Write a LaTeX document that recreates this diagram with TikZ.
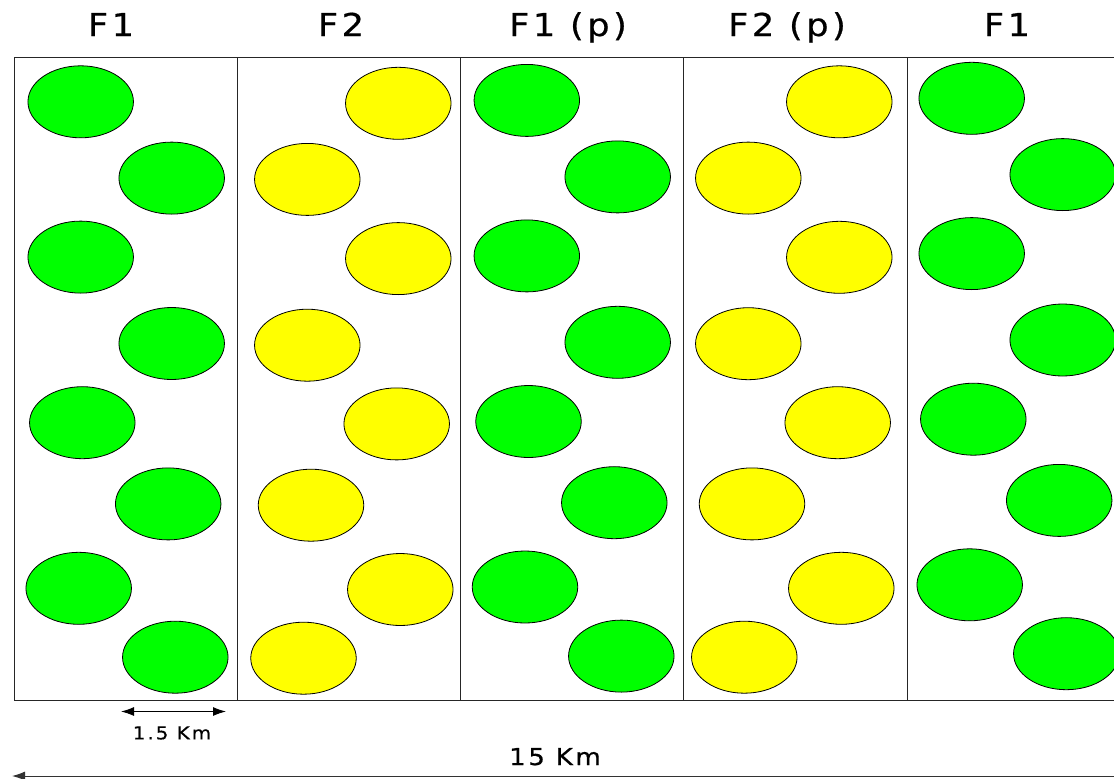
\documentclass[tikz,border=0pt]{standalone}
\usepackage{fontspec}
\setmainfont{DejaVu Sans}[LetterSpace=11, FakeStretch=1.12, FakeBold=0.6]
\usetikzlibrary{shapes.geometric,arrows.meta}
\definecolor{spotgreen}{RGB}{0,255,0}
\definecolor{spotyellow}{RGB}{255,255,0}
\tikzset{
  spot/.style={ellipse, draw=black, line width=0.8pt, minimum width=105.5pt, minimum height=72pt, inner sep=0pt, outer sep=0pt},
  gspot/.style={spot, fill=spotgreen},
  yspot/.style={spot, fill=spotyellow},
  frame/.style={draw=black!85, line width=1pt},
  head/.style={anchor=base, inner sep=0pt, font=\fontsize{31.5}{36}\selectfont},
  dimline/.style={line width=1pt, {Latex[length=13pt,width=9pt]}-{Latex[length=13pt,width=9pt]}}
}

\begin{document}
\begin{tikzpicture}[x=1pt, y=-1pt]
            \useasboundingbox (0,0) rectangle (1114,779);
            \clip (0,0) rectangle (1114,779);
            \draw[frame] (14,57.5) rectangle (1130,700.5);
            \draw[frame] (237,57.5) -- (237,700.5);
            \draw[frame] (460,57.5) -- (460,700.5);
            \draw[frame] (683,57.5) -- (683,700.5);
            \draw[frame] (907,57.5) -- (907,700.5);
            \node[gspot] (a1) at (80.7, 101.8) {};
            \node[gspot] (a2) at (171.7, 178.1) {};
            \node[gspot] (a3) at (80.7, 257.1) {};
            \node[gspot] (a4) at (171.7, 343.5) {};
            \node[gspot] (a5) at (82.3, 422.7) {};
            \node[gspot] (a6) at (168.2, 503.9) {};
            \node[gspot] (a7) at (78.7, 588.3) {};
            \node[gspot] (a8) at (175.3, 657.2) {};
            \node[yspot] (b1) at (398.3, 103.3) {};
            \node[yspot] (b2) at (307.3, 179.4) {};
            \node[yspot] (b3) at (398.3, 258.6) {};
            \node[yspot] (b4) at (307.3, 345.2) {};
            \node[yspot] (b5) at (396.7, 423.9) {};
            \node[yspot] (b6) at (311, 505.2) {};
            \node[yspot] (b7) at (400.3, 589.5) {};
            \node[yspot] (b8) at (303.5, 658.2) {};
            \node[gspot] (c1) at (526.8, 100.4) {};
            \node[gspot] (c2) at (617.7, 176.9) {};
            \node[gspot] (c3) at (526.8, 255.9) {};
            \node[gspot] (c4) at (617.7, 342.3) {};
            \node[gspot] (c5) at (528.5, 421.5) {};
            \node[gspot] (c6) at (614.3, 502.7) {};
            \node[gspot] (c7) at (525, 587) {};
            \node[gspot] (c8) at (621.3, 656.1) {};
            \node[yspot] (d1) at (839.3, 101.8) {};
            \node[yspot] (d2) at (748.3, 178.1) {};
            \node[yspot] (d3) at (839.3, 257.3) {};
            \node[yspot] (d4) at (748.3, 343.7) {};
            \node[yspot] (d5) at (837.7, 422.7) {};
            \node[yspot] (d6) at (752, 503.9) {};
            \node[yspot] (d7) at (841.3, 588.3) {};
            \node[yspot] (d8) at (744.3, 657.2) {};
            \node[gspot] (e1) at (971.7, 98.3) {};
            \node[gspot] (e2) at (1062.7, 174.6) {};
            \node[gspot] (e3) at (971.7, 253.6) {};
            \node[gspot] (e4) at (1062.7, 340) {};
            \node[gspot] (e5) at (973.3, 419.2) {};
            \node[gspot] (e6) at (1059.2, 500.4) {};
            \node[gspot] (e7) at (969.7, 584.8) {};
            \node[gspot] (e8) at (1066.3, 653.7) {};
            \node[head] (t1) at (111, 36) {F1};
            \node[head] (t2) at (341, 36) {F2};
            \node[head] (t3) at (568, 36) {F1 (p)};
            \node[head] (t4) at (787, 36) {F2 (p)};
            \node[head] (t5) at (1007, 36) {F1};
            \coordinate (k1) at (121, 711.5);
            \coordinate (k2) at (226, 711.5);
            \draw[dimline] (k1) to (k2);
            \node[anchor=base, inner sep=0pt, font=\fontsize{17.8}{20}\selectfont] (kl) at (172, 739.3) {1.5 Km};
            \coordinate (w1) at (12, 776);
            \coordinate (w2) at (1140, 776);
            \draw[dimline, black!80] (w1) to (w2);
            \node[anchor=base, inner sep=0pt, font=\fontsize{23.3}{26}\selectfont] (wl) at (555, 765) {15 Km};
        \end{tikzpicture}
\end{document}
